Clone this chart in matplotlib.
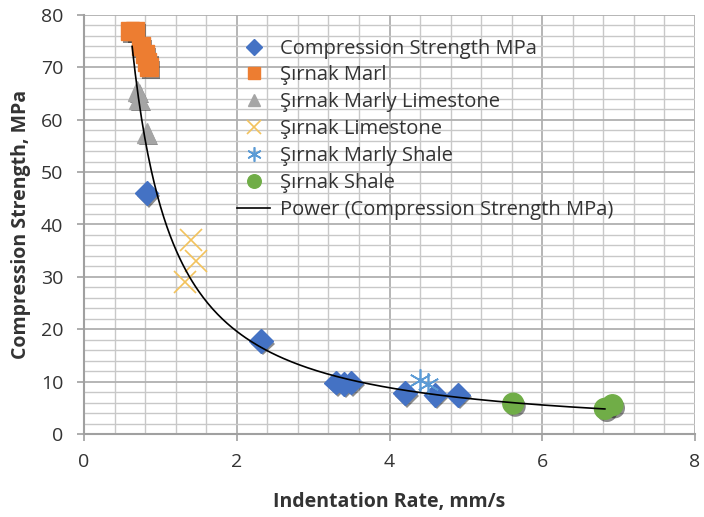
import matplotlib.pyplot as plt
import matplotlib.patheffects as pe
from matplotlib.ticker import MultipleLocator
import numpy as np

plt.rcParams['font.family'] = ['Open Sans', 'DejaVu Sans']

# data
cs_x = [0.82, 2.32, 3.3, 3.4, 3.5, 4.2, 4.6, 4.9]
cs_y = [46, 17.8, 9.8, 9.6, 9.8, 7.8, 7.5, 7.5]
marl_x = [0.6, 0.67, 0.75, 0.8, 0.83, 0.85]
marl_y = [77, 77, 74, 72.5, 71, 70]
mlime_x = [0.7, 0.72, 0.82]
mlime_y = [65.5, 64, 57.5]
lime_x = [1.4, 1.47, 1.32]
lime_y = [37, 33, 29]
mshale_x = [4.4, 4.5]
mshale_y = [10.3, 9.6]
shale_x = [5.62, 6.82, 6.92]
shale_y = [5.8, 4.8, 5.5]

# power trendline y = a * x^b, coefficients
trend_a = 43.5
trend_b = -1.15
trend_x0, trend_x1 = 0.63, 6.82

fig = plt.figure(figsize=(7.04, 5.17), dpi=100)
ax = fig.add_axes([84/704, 83/517, 611/704, 419/517])

shadow = [pe.SimplePatchShadow(offset=(1.5, -2), shadow_rgbFace='k', alpha=0.45), pe.Normal()]

ax.plot(cs_x, cs_y, ls='none', marker='D', ms=12, color='#4472c4', label='Compression Strength MPa', path_effects=shadow, zorder=5)
ax.plot(marl_x, marl_y, ls='none', marker='s', ms=13, color='#ed7d31', label='Şırnak Marl', path_effects=shadow, zorder=5)
ax.plot(mlime_x, mlime_y, ls='none', marker='^', ms=14, color='#a5a5a5', label='Şırnak Marly Limestone', path_effects=shadow, zorder=5)
ax.plot(lime_x, lime_y, ls='none', marker='x', ms=16, mew=1.2, color='#f2c25c', label='Şırnak Limestone', zorder=5)
ax.plot(mshale_x, mshale_y, ls='none', marker=(6, 2, 0), ms=16, mew=1.2, color='#5b9bd5', label='Şırnak Marly Shale', zorder=5)
ax.plot(shale_x, shale_y, ls='none', marker='o', ms=15, color='#70ad47', label='Şırnak Shale', path_effects=shadow, zorder=5)

xx = np.linspace(trend_x0, trend_x1, 300)
ax.plot(xx, trend_a * xx ** trend_b, color='black', lw=1.2, label='Power (Compression Strength MPa)', zorder=6)

ax.set_xlim(0, 8)
ax.set_ylim(0, 80)
ax.xaxis.set_major_locator(MultipleLocator(2))
ax.yaxis.set_major_locator(MultipleLocator(10))
ax.xaxis.set_minor_locator(MultipleLocator(0.4))
ax.yaxis.set_minor_locator(MultipleLocator(2))
for s in ['top', 'right']:
    ax.spines[s].set_visible(False)
for s in ['left', 'bottom']:
    ax.spines[s].set_color('#a0a0a0')
    ax.spines[s].set_linewidth(1.5)
ax.tick_params(which='major', length=5, width=1.2, color='#a0a0a0', labelsize=14, labelcolor='#333333')
ax.tick_params(axis='x', which='major', pad=9)
ax.tick_params(axis='y', which='major', pad=10)
ax.tick_params(which='minor', color='none')
ax.grid(True, which='major', color='#b0b0b0', lw=1.3)
ax.grid(True, which='minor', color='#c8c8c8', lw=1.0)
ax.set_axisbelow(True)

ax.set_xlabel('Indentation Rate, mm/s', fontsize=14, fontweight='bold', color='#333333', labelpad=15)
ax.set_ylabel('Compression Strength, MPa', fontsize=14, fontweight='bold', color='#333333', labelpad=7)

leg = ax.legend(loc='upper left', bbox_to_anchor=(0.238, 0.963), frameon=False, fontsize=14.5,
                labelspacing=0.34, handletextpad=0.5, handlelength=1.6, borderaxespad=0, markerscale=0.65)
for t in leg.get_texts():
    t.set_color('#333333')
for h in leg.legend_handles:
    h.set_path_effects([])

fig.savefig('out.png', dpi=100)
